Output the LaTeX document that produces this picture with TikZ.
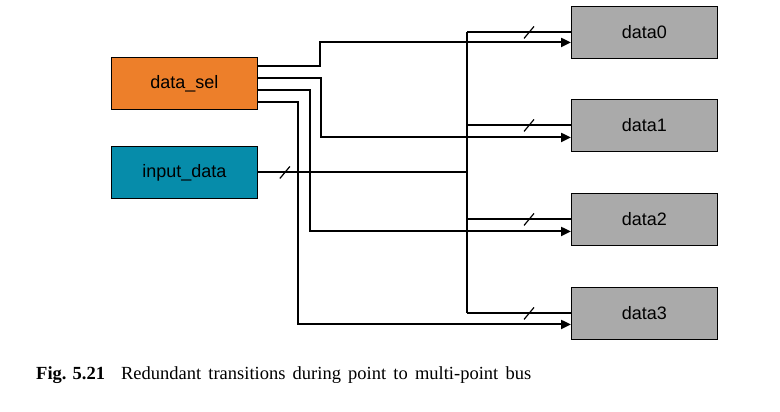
\documentclass[tikz,border=0pt]{standalone}
\usepackage{fontspec}
\setmainfont{Liberation Serif}
\setsansfont{Liberation Sans}
\usetikzlibrary{arrows.meta,positioning,calc}
\definecolor{SelOrange}{HTML}{ED7F2A}
\definecolor{InTeal}{HTML}{068CAA}
\definecolor{RegGrey}{HTML}{AAAAAA}
\newcommand{\busslash}[1]{\draw[busmark] ($(#1)+(-5,6)$) -- ++(10,-12);}

\begin{document}
\begin{tikzpicture}[x=1pt,y=-1pt,
    blk/.style={draw=black, line width=0.9pt, anchor=north west,
      minimum width=146pt, minimum height=52pt, inner sep=0pt,
      font=\sffamily\fontsize{18}{20}\selectfont},
    wire/.style={line width=2pt},
    sig/.style={wire, -{Triangle[length=10pt,width=9pt]}},
    busmark/.style={line width=1.2pt}]
  \useasboundingbox (0,0) rectangle (780,412);

  % sources
  \node[blk, fill=SelOrange] (sel) at (111,57) {data\_sel};
  \node[blk, fill=InTeal] (inp) at (111,146) {input\_data};

  % registers
  \foreach \i/\y in {0/6,1/99,2/193,3/287}
    \node[blk, fill=RegGrey] (d\i) at (571,\y) {data\i};

  % shared data bus
  \coordinate (bus) at (467,0);
  \draw[wire] (d0.west -| bus) -- (d3.west -| bus);
  \draw[wire] (inp.east) -- (inp.east -| bus);
  \coordinate (islash) at ($(inp.east)+(27,0)$);
  \busslash{islash}
  \foreach \i in {0,...,3} {
    \draw[wire] (d\i.west -| bus) -- (d\i.west);
    \coordinate (tap\i) at ($(d\i.west)+(-42,0)$);
    \busslash{tap\i}
  }

  % select lines
  \foreach \i/\dy in {0/9,1/21,2/33,3/45}
    \coordinate (s\i) at ($(sel.north east)+(0,\dy)$);
  \draw[sig] (s0) -- (s0 -| 320,0) |- ($(d0.west)+(0,10)$);
  \draw[sig] (s1) -- (s1 -| 321,0) |- ($(d1.west)+(0,12)$);
  \draw[sig] (s2) -- (s2 -| 310,0) |- ($(d2.west)+(0,12)$);
  \draw[sig] (s3) -- (s3 -| 298,0) |- ($(d3.west)+(0,11)$);

  % caption
  \node[anchor=base west, inner sep=0pt, font=\fontsize{18.5}{20}\selectfont]
    (cap) at (36,379) {\textbf{Fig. 5.21}\hspace{16pt}\spaceskip=7.2pt Redundant transitions during point to multi-point bus};
\end{tikzpicture}
\end{document}
